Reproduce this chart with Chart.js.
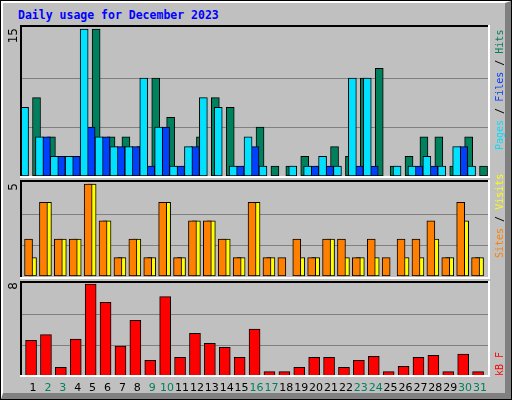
<!DOCTYPE html>
<html><head><meta charset="utf-8">
<script src="https://cdn.jsdelivr.net/npm/chart.js@4/dist/chart.umd.min.js"></script>
<style>
html,body{margin:0;padding:0;background:#c0c0c0;}
#frame{position:absolute;left:0;top:0;width:510px;height:398px;border:1px solid #000;background:#c0c0c0;}
#inner{position:absolute;left:0;top:0;width:502px;height:390px;border-left:2px solid #fff;border-top:2px solid #fff;border-right:6px solid #808080;border-bottom:6px solid #808080;}
.cv{position:absolute;}
.lbl{position:absolute;font:11px "DejaVu Sans",sans-serif;transform:translateX(-50%);}
#title{position:absolute;left:18px;top:8px;font:bold 11.5px "DejaVu Sans Mono",monospace;color:#0000ff;}
</style></head><body>
<div id="frame"><div id="inner"></div></div>
<div id="title">Daily usage for December 2023</div>
<canvas id="c1" class="cv"></canvas>
<canvas id="c2" class="cv"></canvas>
<canvas id="c3" class="cv"></canvas>
<canvas id="ov" class="cv" width="512" height="400" style="left:0;top:0;pointer-events:none"></canvas>
<div id="labels"></div>
<script>
const days = [1,2,3,4,5,6,7,8,9,10,11,12,13,14,15,16,17,18,19,20,21,22,23,24,25,26,27,28,29,30,31];
const weekend = [2,3,9,10,16,17,23,24,30,31];
const hits  = [8,4,2,2,15,4,4,3,10,6,1,4,8,7,1,5,1,1,2,1,3,2,10,11,1,2,4,4,1,4,1];
const files = [0,4,2,2,5,4,3,3,1,5,1,3,0,0,1,3,0,0,0,1,1,0,1,1,0,0,1,1,0,3,0];
const pages = [7,4,2,2,15,4,3,3,10,5,1,3,8,7,1,4,1,0,1,1,2,1,10,10,0,1,1,2,1,3,1];
const visits= [1,4,2,2,5,3,1,2,1,4,1,3,3,2,1,4,1,0,1,1,2,1,1,1,0,1,1,2,1,3,1];
const sites = [2,4,2,2,5,3,1,2,1,4,1,3,3,2,1,4,1,1,2,1,2,2,1,2,1,2,2,3,1,4,1];
const kbytes= [3.1,3.6,0.75,3.2,8,6.4,2.6,4.85,1.37,6.9,1.63,3.7,2.85,2.5,1.63,4.07,0.38,0.38,0.75,1.63,1.63,0.75,1.37,1.7,0.38,0.84,1.63,1.8,0.38,1.9,0.38];
const maxTop=15, maxMid=5, maxBot=8;

const PL=20, PR=490;
const XMIN=0.128, XMAX=31.67;

function pts(arr,off){return arr.map((v,i)=>({x:days[i]+off,y:v}));}
function ds(arr,off,color,w,order){return {data:pts(arr,off),backgroundColor:color,borderColor:'#000',borderWidth:1,barThickness:w,order:order,borderSkipped:false};}

const panelPlugin={id:'panel',
 beforeDatasetsDraw(ch){const c=ch.ctx,y=ch.scales.y,top=ch.options.plugins.panel.max;
   c.save();c.strokeStyle='#808080';c.lineWidth=1;
   [0.335,0.67].forEach(f=>{const py=Math.round(y.getPixelForValue(top*f))+0.5;c.beginPath();c.moveTo(0,py);c.lineTo(ch.width,py);c.stroke();});
   c.restore();},
 afterDraw(ch){const c=ch.ctx;c.save();c.lineWidth=2;
   c.strokeStyle='#000';c.beginPath();c.moveTo(1,ch.height);c.lineTo(1,1);c.lineTo(ch.width,1);c.stroke();
   c.strokeStyle='#fff';c.beginPath();c.moveTo(ch.width-1,0);c.lineTo(ch.width-1,ch.height-1);c.lineTo(0,ch.height-1);c.stroke();
   c.restore();}
};

function make(id,top,h,datasets,max,ymin,ymax){
 const cv=document.getElementById(id);
 cv.style.left=PL+'px';cv.style.top=top+'px';cv.style.width=(PR-PL)+'px';cv.style.height=h+'px';
 cv.width=PR-PL;cv.height=h;
 return new Chart(cv,{type:'bar',data:{datasets},plugins:[panelPlugin],
  options:{responsive:false,animation:false,devicePixelRatio:1,
   layout:{padding:0},
   plugins:{legend:{display:false},tooltip:{enabled:false},panel:{max}},
   scales:{x:{type:'linear',min:XMIN,max:XMAX,offset:false,bounds:'ticks',display:false,grace:0},
           y:{min:ymin,max:ymax,display:false}}}});
}

make('c1',25,153,[ds(pages,-0.03,'#00e0ff',8,1),ds(files,-0.1,'#0040ff',8,2),ds(hits,-0.3,'#00805c',8,3)],maxTop,-0.204,15.41);
make('c2',180,99,[ds(sites,-0.03,'#ff8000',8,1),ds(visits,-0.3,'#ffff00',8,2)],maxMid,-0.163,5.217);
const c3=make('c3',281,96,[ds(kbytes,-0.13,'#ff0000',11,1)],maxBot,-0.087,8.26);

const L=document.getElementById('labels');
days.forEach(d=>{const s=document.createElement('div');s.className='lbl';s.textContent=d;
 s.style.left=(PL+c3.scales.x.getPixelForValue(d))+'px';s.style.top='381px';
 s.style.color=weekend.includes(d)?'#00805c':'#000';L.appendChild(s);});

const o=document.getElementById('ov').getContext('2d');
function up(parts,x,y,font){o.save();o.translate(x,y);o.rotate(-Math.PI/2);o.font=font;o.textBaseline='middle';let cx=0;
 parts.forEach(([t,col])=>{o.fillStyle=col;o.fillText(t,cx,0);cx+=o.measureText(t).width;});o.restore();}
function upEnd(t,x,yTop,font){o.save();o.translate(x,yTop);o.rotate(-Math.PI/2);o.font=font;o.textAlign='right';o.textBaseline='middle';o.fillStyle='#000';o.fillText(t,0,0);o.restore();}
upEnd(String(maxTop),14,28,'12px "DejaVu Sans",sans-serif');
upEnd(String(maxMid),14,183,'12px "DejaVu Sans",sans-serif');
upEnd(String(maxBot),14,282,'12px "DejaVu Sans",sans-serif');
const F='10px "DejaVu Sans Mono",monospace';
up([['Pages','#00e0ff'],[' / ','#000'],['Files','#0040ff'],[' / ','#000'],['Hits','#00805c']],500,150,F);
up([['Sites','#ff8000'],[' / ','#000'],['Visits','#ffff00']],500,258,F);
up([['kB F','#ff0000']],500,376,F);
</script></body></html>
